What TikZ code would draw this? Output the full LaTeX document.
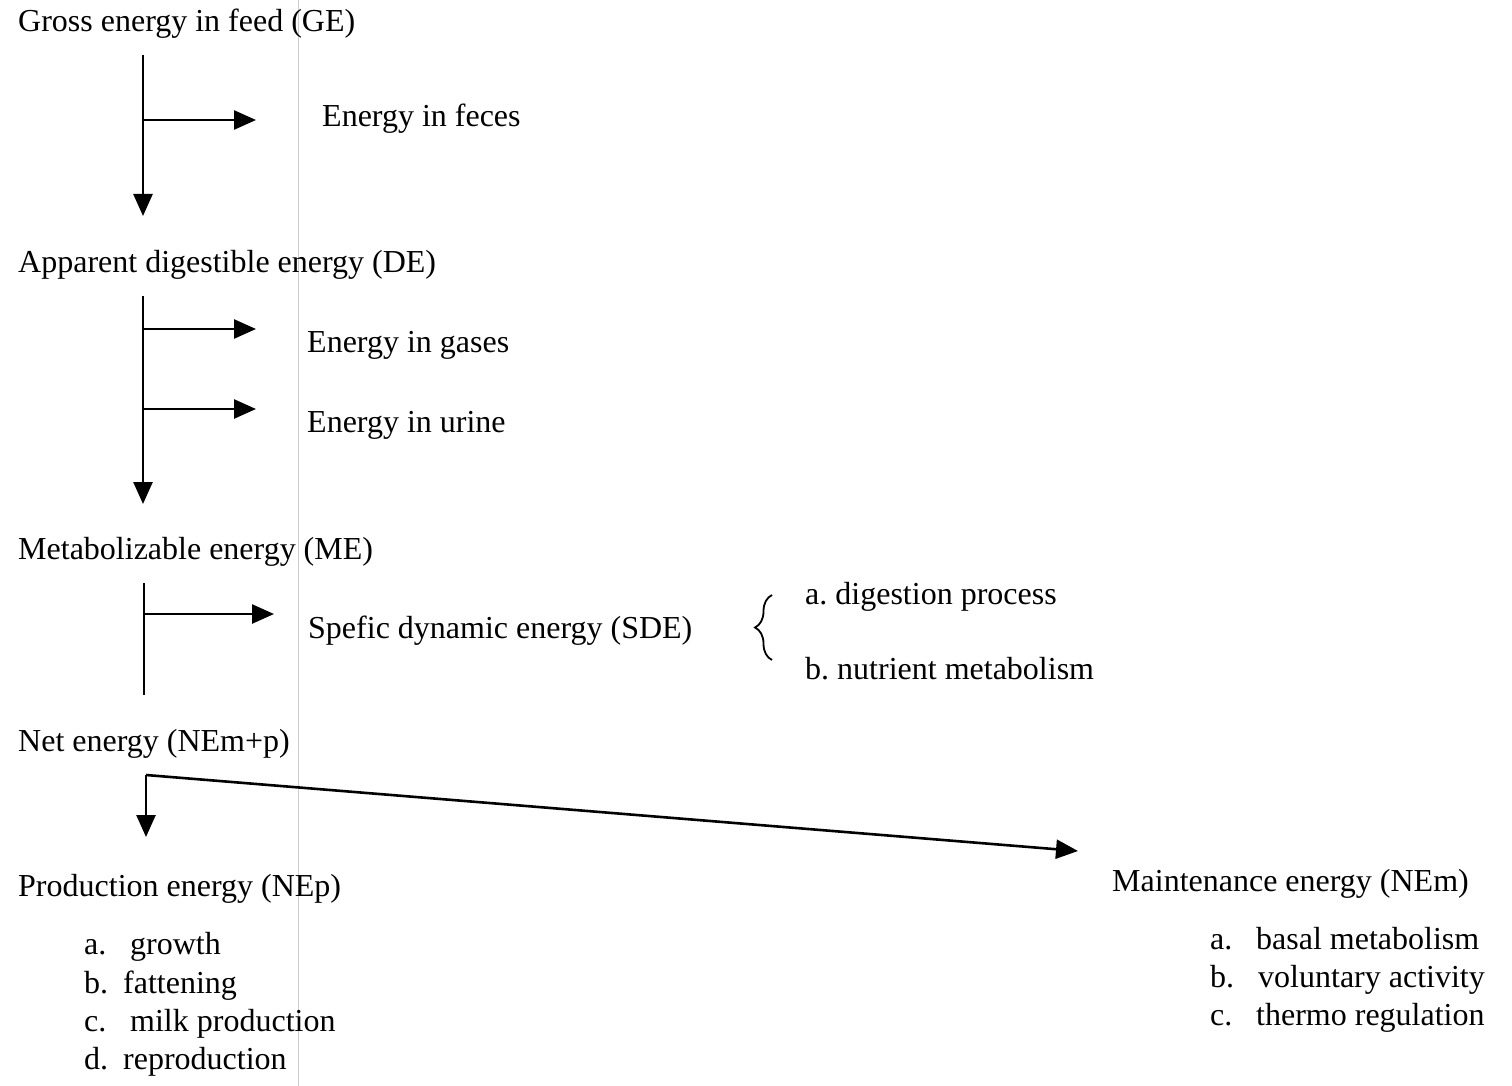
\documentclass[tikz,border=0pt]{standalone}
\usepackage{fontspec}
\setmainfont{Liberation Serif}
\frenchspacing
\usetikzlibrary{arrows.meta,decorations.pathreplacing}
\begin{document}
\begin{tikzpicture}[x=1pt,y=-1pt,
  lbl/.style={anchor=base west,inner sep=0pt,font=\fontsize{32}{38}\selectfont},
  flow/.style={line width=2.6pt},
  arr/.style={flow,-{Triangle[length=22pt,width=19pt]}}]
\useasboundingbox[fill=white] (0,0) rectangle (1512,1086);
% faint fold line of the scan
\draw[gray!40,line width=0.8pt] (298,0) -- (298,1086);

% texts
\node[lbl] (ge)  at (18,32)  {Gross energy in feed (GE)};
\node[lbl] (fec) at (322,127) {Energy in feces};
\node[lbl] (de)  at (18,272) {Apparent digestible energy (DE)};
\node[lbl] (gas) at (307,352) {Energy in gases};
\node[lbl] (uri) at (307,432) {Energy in urine};
\node[lbl] (me)  at (18,559) {Metabolizable energy (ME)};
\node[lbl] (sde) at (308,638) {Spefic dynamic energy (SDE)};
\node[lbl] (dig) at (805,604) {a.\ digestion process};
\node[lbl] (nut) at (805,679) {b.\ nutrient metabolism};
\node[lbl] (ne)  at (18,751) {Net energy (NEm+p)};
\node[lbl] (nep) at (18,896) {Production energy (NEp)};
\node[lbl] (pa)  at (84,954)  {a.};
\node[lbl] (pat) at (130,954) {growth};
\node[lbl] (pb)  at (84,993)  {b.};
\node[lbl] (pbt) at (123,993) {fattening};
\node[lbl] (pc)  at (84,1031) {c.};
\node[lbl] (pct) at (130,1031) {milk production};
\node[lbl] (pd)  at (84,1069) {d.};
\node[lbl] (pdt) at (123,1069) {reproduction};
\node[lbl] (nem) at (1112,891) {Maintenance energy (NEm)};
\node[lbl] (ma)  at (1210,949) {a.};
\node[lbl] (mat) at (1256,949) {basal metabolism};
\node[lbl] (mb)  at (1210,987) {b.};
\node[lbl] (mbt) at (1258,987) {voluntary activity};
\node[lbl] (mc)  at (1210,1025) {c.};
\node[lbl] (mct) at (1256,1025) {thermo regulation};

% GE -> DE
\coordinate (s1) at (143,55);
\coordinate (e1) at (143,216);
\coordinate (b1) at (143,120);
\coordinate (f1) at (256,120);
\draw[arr] (s1) -- (e1);
\draw[arr] (b1) -- (f1);

% DE -> ME
\coordinate (s2) at (143,296);
\coordinate (e2) at (143,504);
\coordinate (b2) at (143,329);
\coordinate (g2) at (256,329);
\coordinate (b3) at (143,409);
\coordinate (u3) at (256,409);
\draw[arr] (s2) -- (e2);
\draw[arr] (b2) -- (g2);
\draw[arr] (b3) -- (u3);

% ME -> NE
\coordinate (s3) at (144,583);
\coordinate (e3) at (144,695);
\coordinate (b4) at (144,614);
\coordinate (d4) at (274,614);
\draw[flow] (s3) -- (e3);
\draw[arr] (b4) -- (d4);

% brace
\coordinate (bt) at (772,595);
\coordinate (bb) at (772,660);
\draw[line width=1.8pt,decorate,decoration={brace,amplitude=17pt}] (bb) -- (bt);

% NE split
\coordinate (k) at (146,775);
\coordinate (kp) at (146,837);
\coordinate (km) at (1078,851);
\draw[arr] (k) -- (kp);
\draw[arr] (k) -- (km);
\end{tikzpicture}
\end{document}
